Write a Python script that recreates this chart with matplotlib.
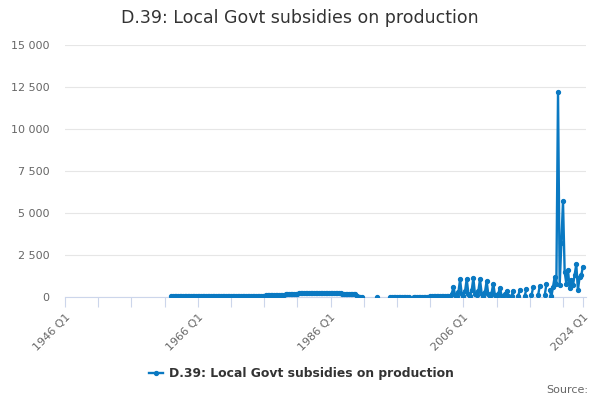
import numpy as np
import matplotlib
matplotlib.use("Agg")
import matplotlib.pyplot as plt
import matplotlib.ticker as mticker

nan = np.nan

TITLE = "D.39: Local Govt subsidies on production"
first_year = 1962

# quarterly values, 1962 Q1 .. 2024 Q1 (nan = no data)
values = [
    30, 32, 34, 33,          # 1962
    35, 36, 38, 37,          # 1963
    38, 40, 41, 40,          # 1964
    42, 43, 44, 44,          # 1965
    45, 46, 48, 47,          # 1966
    48, 50, 52, 51,          # 1967
    52, 54, 55, 55,          # 1968
    56, 57, 58, 58,          # 1969
    60, 61, 62, 62,          # 1970
    64, 65, 66, 66,          # 1971
    66, 65, 64, 63,          # 1972
    62, 60, 58, 57,          # 1973
    56, 57, 60, 62,          # 1974
    65, 70, 75, 80,          # 1975
    85, 90, 95, 95,          # 1976
    95, 92, 90, 92,          # 1977
    95, 100, 110, 120,       # 1978
    135, 150, 165, 175,      # 1979
    185, 190, 200, 205,      # 1980
    205, 210, 210, 212,      # 1981
    215, 218, 220, 222,      # 1982
    225, 228, 230, 232,      # 1983
    235, 238, 240, 240,      # 1984
    238, 235, 230, 228,      # 1985
    225, 222, 220, 218,      # 1986
    215, 212, 210, 208,      # 1987
    205, 205, 200, 200,      # 1988
    198, 195, 190, 180,      # 1989
    40, 12, 10, 10,          # 1990
    nan, nan, nan, nan,      # 1991
    nan, nan, nan, nan,      # 1992
    10, nan, nan, nan,       # 1993
    nan, nan, nan, nan,      # 1994
    12, 14, 15, 15,          # 1995
    16, 15, 14, 15,          # 1996
    16, 17, 18, 18,          # 1997
    nan, nan, 20, 22,        # 1998
    22, 24, 25, 25,          # 1999
    26, 27, 28, 28,          # 2000
    30, 30, 32, 32,          # 2001
    34, 35, 36, 36,          # 2002
    38, 40, 42, 45,          # 2003
    50, 200, 600, 120,       # 2004
    60, 300, 1050, 150,      # 2005
    80, 350, 1080, 200,      # 2006
    80, 400, 1120, 150,      # 2007
    100, 350, 1060, 200,     # 2008
    80, 300, 950, 150,       # 2009
    60, 250, 800, 100,       # 2010
    50, 200, 560, 80,        # 2011
    40, 150, 350, 60,        # 2012
    nan, 60, 380, nan,       # 2013
    nan, 70, 430, nan,       # 2014
    nan, 80, 500, nan,       # 2015
    nan, 90, 570, nan,       # 2016
    nan, 100, 660, nan,      # 2017
    nan, 110, 760, nan,      # 2018
    400, 30, 600, 1200,      # 2019
    800, 12200, 700, 3200,   # 2020
    5700, 1500, 800, 1600,   # 2021
    550, 1000, 700, 1300,    # 2022
    1950, 400, 1200, 1300,   # 2023
    1800,                    # 2024
]

ytick_vals = [0, 2500, 5000, 7500, 10000, 12500, 15000]
xtick_labels = {1946: "1946 Q1", 1966: "1966 Q1", 1986: "1986 Q1",
                2006: "2006 Q1", 2024: "2024 Q1"}

x = first_year + np.arange(len(values)) / 4.0
y = np.array(values, dtype=float)

plt.rcParams["font.family"] = ["DejaVu Sans"]
blue = "#0a79c2"

fig = plt.figure(figsize=(6, 4), dpi=100)
ax = fig.add_axes([65 / 600, 1 - 297 / 400, 521 / 600, 252 / 400])

ax.plot(x, y, color=blue, lw=1.7, marker="o", ms=2.8, zorder=3,
        label=TITLE)

ax.set_xlim(1946, 1946 + 521 / 6.64)
ax.set_ylim(0, 15000)

ax.set_yticks(ytick_vals)
ax.yaxis.set_major_formatter(
    mticker.FuncFormatter(lambda v, _: f"{v:,.0f}".replace(",", " ")))
ax.grid(axis="y", color="#e6e6e6", lw=0.8)
ax.set_axisbelow(True)
ax.tick_params(axis="y", length=0, pad=11, labelsize=8, labelcolor="#666666")

tick_pos = list(range(1946, 2024, 5)) + [2024]
ax.set_xticks(tick_pos)
ax.set_xticklabels([xtick_labels.get(t, "") for t in tick_pos],
                   rotation=45, ha="right", va="top", rotation_mode="anchor")
ax.tick_params(axis="x", length=7, width=0.8, color="#ccd6eb",
               labelsize=8, labelcolor="#666666", pad=4)

for side in ["top", "right", "left"]:
    ax.spines[side].set_visible(False)
ax.spines["bottom"].set_color("#ccd6eb")
ax.spines["bottom"].set_linewidth(0.8)

fig.text(0.5, 1 - 18 / 400, TITLE, ha="center", va="center",
         fontsize=12.5, color="#333333")

leg = fig.legend(loc="center", bbox_to_anchor=(0.502, 1 - 374 / 400),
                 frameon=False, handlelength=1.2, handletextpad=0.45,
                 prop={"weight": "bold", "size": 8.9})
for t in leg.get_texts():
    t.set_color("#333333")

fig.text(588 / 600, 1 - 390 / 400, "Source:", ha="right", va="center",
         fontsize=8, color="#666666")

fig.savefig("out.png", dpi=100)
